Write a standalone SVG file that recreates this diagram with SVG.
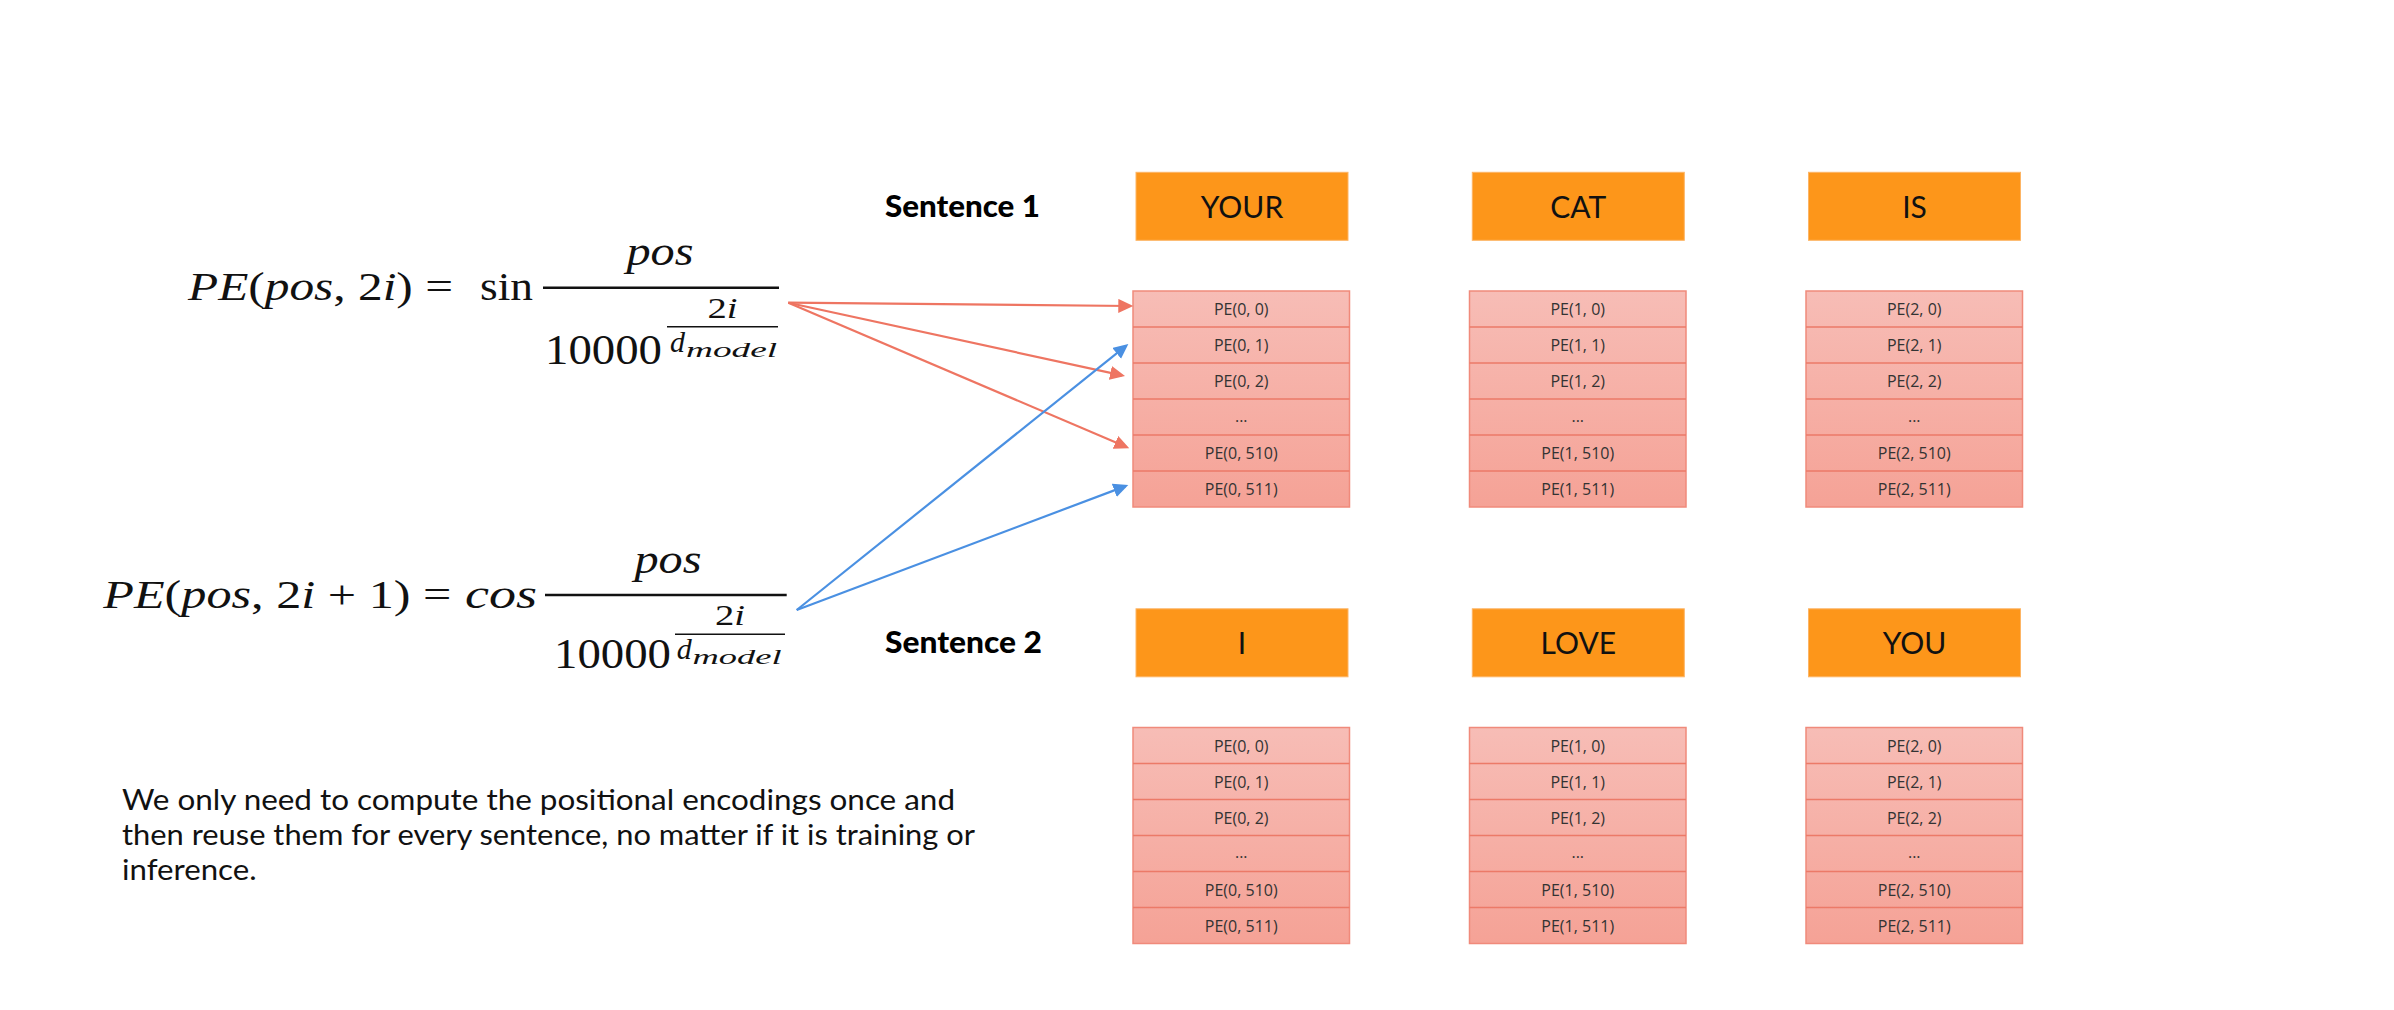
<svg xmlns="http://www.w3.org/2000/svg" width="2394" height="1010" viewBox="0 0 2394 1010">
<style>
.m{font-family:"Liberation Serif","DejaVu Serif",serif;fill:#111}
.it{font-style:italic}
.fl{stroke:#111;fill:none}
.lbl{font-family:Lato,"Open Sans",sans-serif;font-weight:900;font-size:30px;fill:#000}
.word{font-family:Lato,"Open Sans",sans-serif;font-size:30px;fill:#111;text-anchor:middle}
.wbox{fill:#FD961A;stroke:#FDB565;stroke-width:1}
.col{fill:url(#pg);stroke:#F08A7B;stroke-width:1.5}
.sep{stroke:#EC7A68;stroke-width:1.5}
.pe{font-family:"Open Sans","Noto Sans",sans-serif;font-size:16px;fill:#333;text-anchor:middle}
.para{font-family:Lato,"Open Sans",sans-serif;font-size:29px;fill:#111}
.red{stroke:#EE7562;stroke-width:2.2;fill:none;marker-end:url(#ar)}
.blue{stroke:#4A90E2;stroke-width:2.2;fill:none;marker-end:url(#ab)}
</style>
<defs>
<linearGradient id="pg" x1="0" y1="0" x2="0" y2="1">
<stop offset="0" stop-color="#F7BDB6"/>
<stop offset="1" stop-color="#F5A296"/>
</linearGradient>
<marker id="ar" markerUnits="userSpaceOnUse" markerWidth="16" markerHeight="15" refX="12" refY="7" orient="auto">
<path d="M0,0 L15,7 L0,14 z" fill="#EE7562"/>
</marker>
<marker id="ab" markerUnits="userSpaceOnUse" markerWidth="16" markerHeight="15" refX="12" refY="7" orient="auto">
<path d="M0,0 L15,7 L0,14 z" fill="#4A90E2"/>
</marker>
</defs>
<rect width="2394" height="1010" fill="#fff"/>

<g id="formula-sin">
<text class="m" x="188" y="300" font-size="40" textLength="265" lengthAdjust="spacingAndGlyphs"><tspan class="it">PE</tspan>(<tspan class="it">pos</tspan>, 2<tspan class="it">i</tspan>) =</text>
<text class="m" x="480" y="300" font-size="40" textLength="53" lengthAdjust="spacingAndGlyphs">sin</text>
<line class="fl" x1="543" y1="287.7" x2="779" y2="287.7" stroke-width="2.6"/>
<text class="m it" x="660" y="265" font-size="42" text-anchor="middle" textLength="67" lengthAdjust="spacingAndGlyphs">pos</text>
<text class="m" x="545" y="364" font-size="43" textLength="117" lengthAdjust="spacingAndGlyphs">10000</text>
<line class="fl" x1="667" y1="326.7" x2="778" y2="326.7" stroke-width="1.6"/>
<text class="m" x="722.5" y="317.7" font-size="29" text-anchor="middle" textLength="30" lengthAdjust="spacingAndGlyphs">2<tspan class="it">i</tspan></text>
<text class="m it" x="670" y="351.7" font-size="29" textLength="15" lengthAdjust="spacingAndGlyphs">d</text>
<text class="m it" x="686" y="357" font-size="22" textLength="91" lengthAdjust="spacingAndGlyphs">model</text>
</g>

<g id="formula-cos">
<text class="m" x="103.3" y="608.3" font-size="40" textLength="348" lengthAdjust="spacingAndGlyphs"><tspan class="it">PE</tspan>(<tspan class="it">pos</tspan>, 2<tspan class="it">i</tspan> + 1) =</text>
<text class="m it" x="465" y="608.3" font-size="40" textLength="72" lengthAdjust="spacingAndGlyphs">cos</text>
<line class="fl" x1="545" y1="595" x2="786.7" y2="595" stroke-width="2.6"/>
<text class="m it" x="668" y="573.3" font-size="42" text-anchor="middle" textLength="67" lengthAdjust="spacingAndGlyphs">pos</text>
<text class="m" x="554" y="668" font-size="43" textLength="117" lengthAdjust="spacingAndGlyphs">10000</text>
<line class="fl" x1="675" y1="634.3" x2="785" y2="634.3" stroke-width="1.6"/>
<text class="m" x="730" y="625" font-size="29" text-anchor="middle" textLength="30" lengthAdjust="spacingAndGlyphs">2<tspan class="it">i</tspan></text>
<text class="m it" x="676.7" y="659" font-size="29" textLength="15" lengthAdjust="spacingAndGlyphs">d</text>
<text class="m it" x="692.5" y="664.3" font-size="22" textLength="89" lengthAdjust="spacingAndGlyphs">model</text>
</g>

<g id="label-sentence1"><text class="lbl" x="885" y="217" textLength="155" lengthAdjust="spacingAndGlyphs">Sentence 1</text></g>
<g id="label-sentence2"><text class="lbl" x="885" y="653.3" textLength="157" lengthAdjust="spacingAndGlyphs">Sentence 2</text></g>

<g id="word-your"><rect class="wbox" x="1136" y="172.3" width="212" height="68"/><text class="word" x="1242" y="217.5">YOUR</text></g>
<g id="word-cat"><rect class="wbox" x="1472.3" y="172.3" width="212" height="68"/><text class="word" x="1578.3" y="217.5">CAT</text></g>
<g id="word-is"><rect class="wbox" x="1808.5" y="172.3" width="212" height="68"/><text class="word" x="1914.5" y="217.5">IS</text></g>
<g id="word-i"><rect class="wbox" x="1136" y="608.8" width="212" height="68"/><text class="word" x="1242" y="654">I</text></g>
<g id="word-love"><rect class="wbox" x="1472.3" y="608.8" width="212" height="68"/><text class="word" x="1578.3" y="654">LOVE</text></g>
<g id="word-you"><rect class="wbox" x="1808.5" y="608.8" width="212" height="68"/><text class="word" x="1914.5" y="654">YOU</text></g>

<g id="pe-s1-0">
<rect class="col" x="1133" y="291" width="216.5" height="216"/>
<path class="sep" d="M1133,327H1349.5M1133,363H1349.5M1133,399H1349.5M1133,435H1349.5M1133,471H1349.5"/>
<text class="pe" x="1241.25" y="315">PE(0, 0)</text><text class="pe" x="1241.25" y="351">PE(0, 1)</text><text class="pe" x="1241.25" y="387">PE(0, 2)</text><text class="pe" x="1241.25" y="421.5">...</text><text class="pe" x="1241.25" y="459">PE(0, 510)</text><text class="pe" x="1241.25" y="495">PE(0, 511)</text>
</g>
<g id="pe-s1-1">
<rect class="col" x="1469.5" y="291" width="216.5" height="216"/>
<path class="sep" d="M1469.5,327H1686M1469.5,363H1686M1469.5,399H1686M1469.5,435H1686M1469.5,471H1686"/>
<text class="pe" x="1577.75" y="315">PE(1, 0)</text><text class="pe" x="1577.75" y="351">PE(1, 1)</text><text class="pe" x="1577.75" y="387">PE(1, 2)</text><text class="pe" x="1577.75" y="421.5">...</text><text class="pe" x="1577.75" y="459">PE(1, 510)</text><text class="pe" x="1577.75" y="495">PE(1, 511)</text>
</g>
<g id="pe-s1-2">
<rect class="col" x="1806" y="291" width="216.5" height="216"/>
<path class="sep" d="M1806,327H2022.5M1806,363H2022.5M1806,399H2022.5M1806,435H2022.5M1806,471H2022.5"/>
<text class="pe" x="1914.25" y="315">PE(2, 0)</text><text class="pe" x="1914.25" y="351">PE(2, 1)</text><text class="pe" x="1914.25" y="387">PE(2, 2)</text><text class="pe" x="1914.25" y="421.5">...</text><text class="pe" x="1914.25" y="459">PE(2, 510)</text><text class="pe" x="1914.25" y="495">PE(2, 511)</text>
</g>
<g id="pe-s2-0">
<rect class="col" x="1133" y="727.5" width="216.5" height="216"/>
<path class="sep" d="M1133,763.5H1349.5M1133,799.5H1349.5M1133,835.5H1349.5M1133,871.5H1349.5M1133,907.5H1349.5"/>
<text class="pe" x="1241.25" y="751.5">PE(0, 0)</text><text class="pe" x="1241.25" y="787.5">PE(0, 1)</text><text class="pe" x="1241.25" y="823.5">PE(0, 2)</text><text class="pe" x="1241.25" y="858">...</text><text class="pe" x="1241.25" y="895.5">PE(0, 510)</text><text class="pe" x="1241.25" y="931.5">PE(0, 511)</text>
</g>
<g id="pe-s2-1">
<rect class="col" x="1469.5" y="727.5" width="216.5" height="216"/>
<path class="sep" d="M1469.5,763.5H1686M1469.5,799.5H1686M1469.5,835.5H1686M1469.5,871.5H1686M1469.5,907.5H1686"/>
<text class="pe" x="1577.75" y="751.5">PE(1, 0)</text><text class="pe" x="1577.75" y="787.5">PE(1, 1)</text><text class="pe" x="1577.75" y="823.5">PE(1, 2)</text><text class="pe" x="1577.75" y="858">...</text><text class="pe" x="1577.75" y="895.5">PE(1, 510)</text><text class="pe" x="1577.75" y="931.5">PE(1, 511)</text>
</g>
<g id="pe-s2-2">
<rect class="col" x="1806" y="727.5" width="216.5" height="216"/>
<path class="sep" d="M1806,763.5H2022.5M1806,799.5H2022.5M1806,835.5H2022.5M1806,871.5H2022.5M1806,907.5H2022.5"/>
<text class="pe" x="1914.25" y="751.5">PE(2, 0)</text><text class="pe" x="1914.25" y="787.5">PE(2, 1)</text><text class="pe" x="1914.25" y="823.5">PE(2, 2)</text><text class="pe" x="1914.25" y="858">...</text><text class="pe" x="1914.25" y="895.5">PE(2, 510)</text><text class="pe" x="1914.25" y="931.5">PE(2, 511)</text>
</g>

<g id="note">
<text class="para" x="122" y="810" textLength="833" lengthAdjust="spacingAndGlyphs">We only need to compute the positional encodings once and</text>
<text class="para" x="122" y="845" textLength="853" lengthAdjust="spacingAndGlyphs">then reuse them for every sentence, no matter if it is training or</text>
<text class="para" x="122" y="880" textLength="134.5" lengthAdjust="spacingAndGlyphs">inference.</text>
</g>

<g id="connectors">
<line class="red" x1="788.3" y1="302.7" x2="1130.3" y2="306"/>
<line class="red" x1="788.3" y1="302.7" x2="1122.1" y2="375.4"/>
<line class="red" x1="788.3" y1="302.7" x2="1126.5" y2="447.1"/>
<line class="blue" x1="796.7" y1="610" x2="1126" y2="345.9"/>
<line class="blue" x1="796.7" y1="610" x2="1125.5" y2="486.1"/>
</g>
</svg>
